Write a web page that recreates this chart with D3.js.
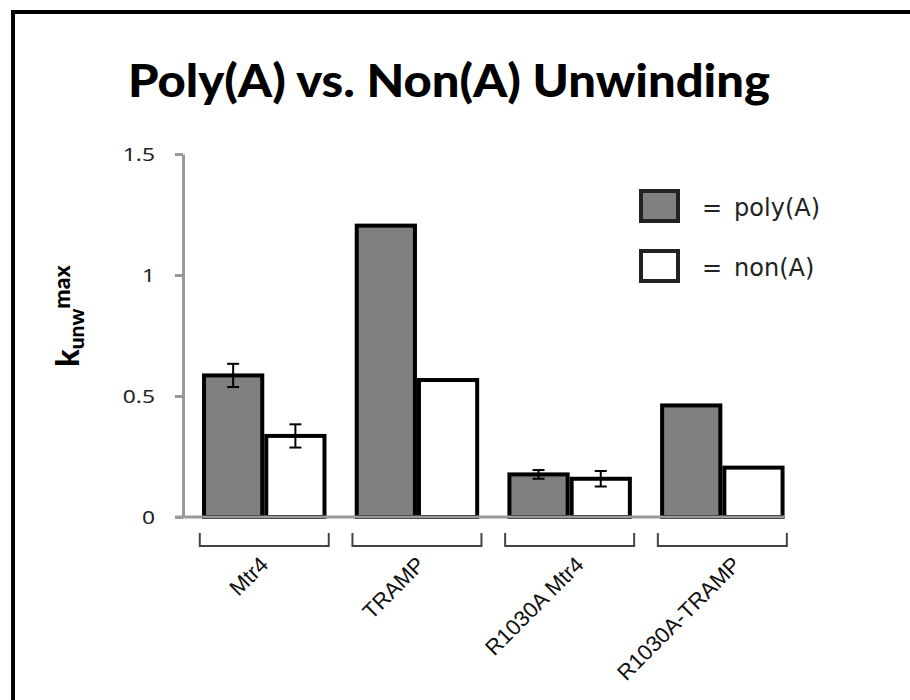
<!DOCTYPE html>
<html>
<head>
<meta charset="utf-8">
<script src="https://cdn.jsdelivr.net/npm/d3@7"></script>
<style>
  body { margin: 0; background: #fff; }
  svg { display: block; }
</style>
</head>
<body>
<script>
// Data
const categories = ["Mtr4", "TRAMP", "R1030A Mtr4", "R1030A-TRAMP"];
const polyA = [0.585, 1.204, 0.176, 0.461];
const nonA = [0.335, 0.566, 0.158, 0.204];
const polyErr = [0.048, null, 0.018, null];
const nonErr = [0.048, null, 0.032, null];
const yTicks = [0, 0.5, 1, 1.5];
const yTickLabels = ["0", "0.5", "1", "1.5"];
const legendItems = ["poly(A)", "non(A)"];
const legendFills = ["#808080", "#ffffff"];

const W = 910, H = 700;
let svg = d3.select("body").append("svg")
            .attr("width", W)
            .attr("height", H);

// Frame (top + left only, runs off the page)
svg.append("path")
    .attr("d", `M13,${H} V12 H${W}`)
    .attr("fill", "none")
    .attr("stroke", "#000")
    .attr("stroke-width", 4);

// Title
svg.append("text")
    .attr("x", 128)
    .attr("y", 97)
    .attr("font-family", "Lato, 'Open Sans', sans-serif")
    .attr("font-weight", 900)
    .attr("font-size", 45)
    .attr("fill", "#000")
    .attr("textLength", 642)
    .attr("lengthAdjust", "spacingAndGlyphs")
    .text("Poly(A) vs. Non(A) Unwinding");

// Scales
let x = d3.scaleBand()
    .domain(categories)
    .range([188.3, 798.3])
    .paddingInner(0.185)
    .paddingOuter(0.09);

let y = d3.scaleLinear()
    .domain([0, 1.5])
    .range([517, 154]);

const bw = x.bandwidth();
const sw = 4;

// Bars
let groups = svg.append("g").selectAll("g")
    .data(categories)
    .enter()
    .append("g")
    .attr("transform", d => `translate(${x(d)},0)`);

groups.append("rect")
    .attr("x", sw / 2)
    .attr("width", bw / 2 - sw)
    .attr("y", (d, i) => y(polyA[i]))
    .attr("height", (d, i) => y(0) - y(polyA[i]))
    .attr("fill", "#808080")
    .attr("stroke", "#000")
    .attr("stroke-width", sw);

groups.append("rect")
    .attr("x", bw / 2 + sw / 2)
    .attr("width", bw / 2 - sw)
    .attr("y", (d, i) => y(nonA[i]))
    .attr("height", (d, i) => y(0) - y(nonA[i]))
    .attr("fill", "#fff")
    .attr("stroke", "#000")
    .attr("stroke-width", sw);

// Error bars
function errorBar(g, cx, v, e) {
    if (e == null) return;
    let cap = 6;
    g.append("line")
        .attr("x1", cx).attr("x2", cx)
        .attr("y1", y(v + e)).attr("y2", y(v - e))
        .attr("stroke", "#000").attr("stroke-width", 2);
    [v + e, v - e].forEach(t => {
        g.append("line")
            .attr("x1", cx - cap).attr("x2", cx + cap)
            .attr("y1", y(t)).attr("y2", y(t))
            .attr("stroke", "#000").attr("stroke-width", 2);
    });
}
groups.each(function (d, i) {
    let g = d3.select(this);
    errorBar(g, bw / 4, polyA[i], polyErr[i]);
    errorBar(g, bw * 3 / 4, nonA[i], nonErr[i]);
});

// Y axis
let yAxis = svg.append("g")
    .attr("transform", "translate(183,0)")
    .call(d3.axisLeft(y)
        .tickValues(yTicks)
        .tickSize(8)
        .tickSizeOuter(0)
        .tickPadding(28)
        .tickFormat((d, i) => yTickLabels[i]));
yAxis.select(".domain").attr("stroke", "#999").attr("stroke-width", 3);
yAxis.selectAll(".tick line").attr("stroke", "#999").attr("stroke-width", 3);
// labels in the picture are stretched sideways
const stretch = 1.2;
yAxis.selectAll(".tick text")
    .attr("font-family", "'Noto Sans', sans-serif")
    .attr("font-size", 19)
    .attr("fill", "#222")
    .attr("dy", "0.35em")
    .attr("x", -28 / stretch)
    .attr("transform", `scale(${stretch},1)`);

// Baseline across the bars
svg.append("line")
    .attr("x1", 175)
    .attr("x2", x(categories[categories.length - 1]) + bw)
    .attr("y1", y(0)).attr("y2", y(0))
    .attr("stroke", "#999")
    .attr("stroke-width", 3);

// Y axis title: k_unw^max
let yTitle = svg.append("text")
    .attr("transform", "translate(79,316) rotate(-90)")
    .attr("text-anchor", "middle")
    .attr("font-family", "Lato, 'Open Sans', sans-serif")
    .attr("font-weight", 900)
    .attr("fill", "#000");
yTitle.append("tspan").attr("font-size", 32).text("k");
yTitle.append("tspan").attr("font-size", 21).attr("dy", 5).text("unw");
yTitle.append("tspan").attr("font-size", 23).attr("dy", -14).text("max");

// Category brackets
let brackets = svg.append("g");
categories.forEach(c => {
    let cx = x(c) + bw / 2, half = 64.5;
    brackets.append("path")
        .attr("d", `M${cx - half},533 V546 H${cx + half} V533`)
        .attr("fill", "none")
        .attr("stroke", "#444")
        .attr("stroke-width", 2);
});

// Category labels, rotated
let labels = svg.append("g").selectAll("text")
    .data(categories)
    .enter()
    .append("text")
    .attr("text-anchor", "end")
    .attr("font-family", "'Liberation Sans', Arial, sans-serif")
    .attr("font-size", 22)
    .attr("fill", "#111")
    .text(d => d);
labels.attr("transform", function (d) {
    let len = this.getComputedTextLength();
    return `translate(${x(d) + bw / 2 + 0.12 * len},566) rotate(-45)`;
});

// Legend
let legend = svg.append("g").selectAll("g")
    .data(legendItems)
    .enter()
    .append("g")
    .attr("transform", (d, i) => `translate(641,${191 + i * 60})`);
legend.append("rect")
    .attr("width", 37)
    .attr("height", 30)
    .attr("fill", (d, i) => legendFills[i])
    .attr("stroke", "#222")
    .attr("stroke-width", 4);
let legendText = legend.append("text")
    .attr("x", 61)
    .attr("y", 25)
    .attr("font-family", "'DejaVu Sans', sans-serif")
    .attr("font-size", 24)
    .attr("fill", "#222");
legendText.append("tspan").text("=");
legendText.append("tspan").attr("dx", 12).text(d => d);
</script>
</body>
</html>
